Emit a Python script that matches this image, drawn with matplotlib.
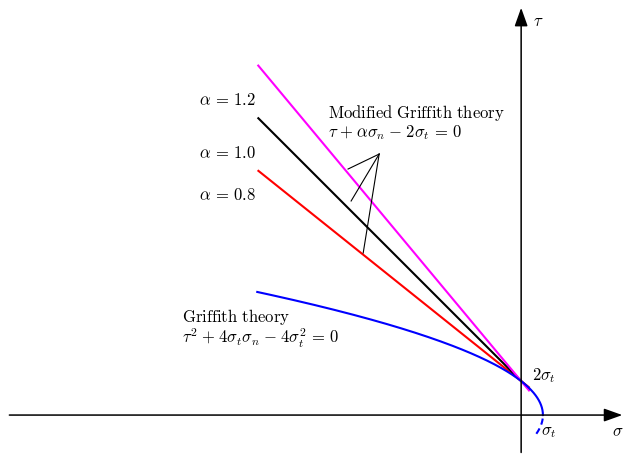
import numpy as np
import matplotlib
matplotlib.use('Agg')
from matplotlib import pyplot as plt

plt.rcParams['mathtext.fontset'] = 'cm'

# friction coefficients of the modified criterion and their colours
alphas = [0.8, 1.0, 1.2]
alpha_colors = ['red', 'black', 'magenta']
alpha_label_tau = [12.94, 15.41, 18.53]

sigma_t = 1.0
sigma_left = -15.5      # where the straight lines start
sigma_right = 0.5       # where they stop past the tau axis

# parabola drawn for the Griffith curve: sigma = vertex - tau^2 / width
griffith_vertex = 1.28
griffith_width = 3.12
griffith_tau_top = 7.24
griffith_tau_bottom = -1.1

# leader lines from the "modified" label to each straight line
leader_apex = (-8.35, 15.35)
leader_ends = [(-10.18, 14.47), (-10.0, 12.59), (-9.29, 9.53)]

FS = 12
SP = r'\hspace{0.08}'    # small extra gap round + and -


def draw_axes(ax):
    arrow = dict(arrowstyle='-|>,head_length=0.7,head_width=0.25',
                 color='black', lw=1.1, mutation_scale=16,
                 shrinkA=0, shrinkB=0)
    ax.annotate('', xy=(5.95, 0), xytext=(-30.1, 0), arrowprops=arrow)
    ax.annotate('', xy=(0, 23.95), xytext=(0, -2.2), arrowprops=arrow)
    ax.text(1.0, 23.2, r'$\tau$', fontsize=FS, ha='center', va='center')
    ax.text(5.7, -0.95, r'$\sigma$', fontsize=FS, ha='center', va='center')


def draw_modified(ax):
    s = np.linspace(sigma_left, sigma_right, 50)
    for a, c, ty in zip(alphas, alpha_colors, alpha_label_tau):
        tau = 2 * sigma_t - a * s
        ax.plot(s, tau, color=c, lw=1.5, solid_capstyle='butt')
        ax.text(-15.59, ty, r'$\alpha\, =\, %.1f$' % a, fontsize=FS,
                ha='right', va='center')

    for end in leader_ends:
        ax.plot([leader_apex[0], end[0]], [leader_apex[1], end[1]],
                color='black', lw=0.8)

    ax.text(-11.35, 17.76, r'$\mathrm{Modified\ Griffith\ theory}$',
            fontsize=FS, ha='left', va='center')
    ax.text(-11.35, 16.6,
            r'$\tau' + SP + '+' + SP + r'\alpha\sigma_n' + SP + '-' + SP
            + r'2\sigma_t\, =\, 0$',
            fontsize=FS, ha='left', va='center')


def draw_griffith(ax):
    tau = np.linspace(0, griffith_tau_top, 200)
    ax.plot(griffith_vertex - tau ** 2 / griffith_width, tau,
            color='blue', lw=1.5)
    tau = np.linspace(griffith_tau_bottom, 0, 30)
    ax.plot(griffith_vertex - tau ** 2 / griffith_width, tau,
            color='blue', lw=1.5, dashes=(3, 2))

    ax.text(-19.94, 5.76, r'$\mathrm{Griffith\ theory}$', fontsize=FS,
            ha='left', va='center')
    ax.text(-19.94, 4.53,
            r'$\tau^2' + SP + '+' + SP + r'4\sigma_t\sigma_n' + SP + '-' + SP
            + r'4\sigma_t^2\, =\, 0$',
            fontsize=FS, ha='left', va='center')

    ax.text(0.63, 2.35, r'$2\sigma_t$', fontsize=FS, ha='left', va='center')
    ax.text(1.18, -0.95, r'$\sigma_t$', fontsize=FS, ha='left', va='center')


fig = plt.figure(figsize=(6.23, 4.54), dpi=100)
ax = fig.add_axes([0, 0, 1, 1])
ax.set_xlim(-30.65, 5.99)
ax.set_ylim(-2.29, 24.41)
ax.axis('off')

draw_axes(ax)
draw_modified(ax)
draw_griffith(ax)

fig.savefig('out.png', dpi=100)
